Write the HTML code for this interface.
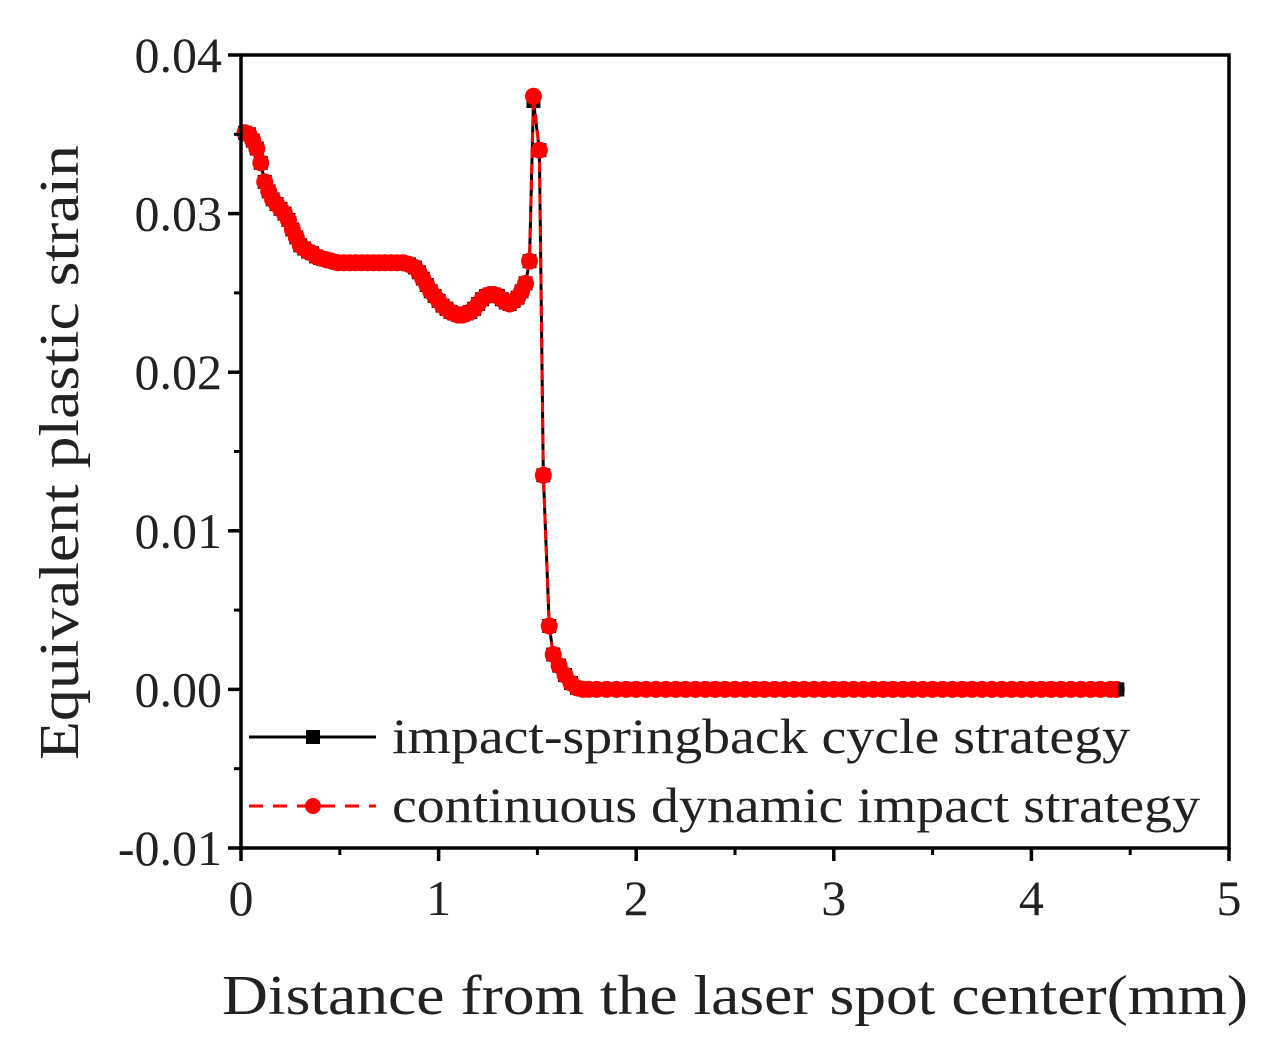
<!DOCTYPE html>
<html><head><meta charset="utf-8"><style>
html,body{margin:0;padding:0;background:#fff;}
svg{display:block;font-family:"Liberation Serif",serif;}
</style></head><body>
<svg id="chart" width="1274" height="1061" viewBox="0 0 1274 1061">
<g id="plot"></g>
</svg>
<script>
const xTicks=[0,1,2,3,4,5];
const xTickLabels=["0","1","2","3","4","5"];
const yTicks=[-0.01,0,0.01,0.02,0.03,0.04];
const yTickLabels=["-0.01","0.00","0.01","0.02","0.03","0.04"];
const xVals=[0.02,0.04,0.06,0.08,0.10,0.12,0.14,0.16,0.18,0.20,
0.22,0.24,0.26,0.28,0.30,0.32,0.34,0.36,0.38,0.40,
0.43,0.46,0.49,0.52,0.55,0.58,0.61,0.64,0.67,0.70,
0.73,0.76,0.79,0.82,0.85,0.88,0.90,0.92,0.94,0.96,
0.98,1.00,1.02,1.04,1.06,1.08,1.10,1.12,1.14,1.16,
1.18,1.20,1.22,1.24,1.26,1.28,1.30,1.32,1.34,1.36,
1.38,1.40,1.42,1.44,1.46,1.48,1.51,1.53,1.56,1.58,
1.61,1.64,1.67,1.70,1.73,1.76,1.80,1.85,1.90,1.95,
2.00,2.05,2.10,2.15,2.20,2.25,2.30,2.35,2.40,2.45,
2.50,2.55,2.60,2.65,2.70,2.75,2.80,2.85,2.90,2.95,
3.00,3.05,3.10,3.15,3.20,3.25,3.30,3.35,3.40,3.45,
3.50,3.55,3.60,3.65,3.70,3.75,3.80,3.85,3.90,3.95,
4.00,4.05,4.10,4.15,4.20,4.25,4.30,4.35,4.40,4.43];
const springbackVals=[0.0351,0.0350,0.0346,0.0341,0.0332,0.0320,0.0314,0.0309,0.0306,0.0303,
0.0300,0.0296,0.0290,0.0285,0.0280,0.0278,0.0276,0.0275,0.0273,0.0272,
0.0271,0.0270,0.0269,0.0269,0.0269,0.0269,0.0269,0.0269,0.0269,0.0269,
0.0269,0.0269,0.0269,0.0269,0.0268,0.0266,0.0263,0.0259,0.0255,0.0251,
0.0248,0.0245,0.0242,0.0240,0.0238,0.0237,0.0236,0.0236,0.0237,0.0238,
0.0240,0.0243,0.0246,0.0248,0.0249,0.0249,0.0248,0.0246,0.0244,0.0243,
0.0245,0.0247,0.0251,0.0256,0.0270,0.0371,0.0340,0.0135,0.0040,0.0022,
0.0015,0.0009,0.0004,0.0001,0,0,0,0,0,0,
0,0,0,0,0,0,0,0,0,0,
0,0,0,0,0,0,0,0,0,0,
0,0,0,0,0,0,0,0,0,0,
0,0,0,0,0,0,0,0,0,0,
0,0,0,0,0,0,0,0,0,0];
const continuousVals=[0.0351,0.0350,0.0346,0.0341,0.0332,0.0320,0.0314,0.0309,0.0306,0.0303,
0.0300,0.0296,0.0290,0.0285,0.0280,0.0278,0.0276,0.0275,0.0273,0.0272,
0.0271,0.0270,0.0269,0.0269,0.0269,0.0269,0.0269,0.0269,0.0269,0.0269,
0.0269,0.0269,0.0269,0.0269,0.0268,0.0266,0.0263,0.0259,0.0255,0.0251,
0.0248,0.0245,0.0242,0.0240,0.0238,0.0237,0.0236,0.0236,0.0237,0.0238,
0.0240,0.0243,0.0246,0.0248,0.0249,0.0249,0.0248,0.0246,0.0244,0.0243,
0.0245,0.0247,0.0251,0.0256,0.0270,0.0374,0.0340,0.0135,0.0040,0.0022,
0.0015,0.0009,0.0004,0.0001,0,0,0,0,0,0,
0,0,0,0,0,0,0,0,0,0,
0,0,0,0,0,0,0,0,0,0,
0,0,0,0,0,0,0,0,0,0,
0,0,0,0,0,0,0,0,0,0,
0,0,0,0,0,0,0,0,0,0];

const L=241,R=1229,T=55,B=848;
const xS=v=>L+(v-0)/(5-0)*(R-L);
const yS=v=>B-(v-(-0.01))/(0.05)*(B-T);
const NS="http://www.w3.org/2000/svg";
const g=document.getElementById('plot');
function mk(tag,attrs,parent){const e=document.createElementNS(NS,tag);for(const k in attrs)e.setAttribute(k,attrs[k]);(parent||g).appendChild(e);return e;}
const N=Math.min(xVals.length,springbackVals.length,continuousVals.length);

// series
const gs=mk('g',{});


let d1='';for(let i=0;i<N;i++)d1+=(i?'L':'M')+xS(xVals[i])+' '+yS(springbackVals[i])+' ';
const l1=mk('path',{d:d1,fill:'none',stroke:'#000','stroke-width':3},gs);


for(let i=0;i<N;i++){const m=mk('rect',{x:xS(xVals[i])-7,y:yS(springbackVals[i])-7,width:14,height:14,fill:'#111'},gs);

}
let d2='';for(let i=0;i<N;i++)d2+=(i?'L':'M')+xS(xVals[i])+' '+yS(continuousVals[i])+' ';
const l2=mk('path',{d:d2,fill:'none',stroke:'#f00','stroke-width':3,'stroke-dasharray':'10 6'},gs);


for(let i=0;i<N;i++){const m=mk('circle',{cx:xS(xVals[i]),cy:yS(continuousVals[i]),r:8.5,fill:'#f00'},gs);

}
const lastI=N-1;
const ls=mk('rect',{x:xS(xVals[lastI])+2,y:yS(springbackVals[lastI])-7,width:6,height:14,fill:'#111'},gs);



// frame
const fr=mk('rect',{x:L,y:T,width:R-L,height:B-T,fill:'none',stroke:'#000','stroke-width':3.5});



xTicks.forEach((v,i)=>{
 const t=mk('line',{x1:xS(v),x2:xS(v),y1:B,y2:B+13,stroke:'#000','stroke-width':3.5});
 
 
 if(i<xTicks.length-1){const m=mk('line',{x1:xS(v+0.5),x2:xS(v+0.5),y1:B,y2:B+7,stroke:'#000','stroke-width':3});
 
 }
 const tx=mk('text',{x:xS(v),y:B+67,'text-anchor':'middle','font-size':50,fill:'#222'});
 tx.textContent=xTickLabels[i];
 
 
});
yTicks.forEach((v,i)=>{
 const t=mk('line',{x1:L-13,x2:L,y1:yS(v),y2:yS(v),stroke:'#000','stroke-width':3.5});
 
 
 if(i<yTicks.length-1){const m=mk('line',{x1:L-7,x2:L,y1:yS(v+0.005),y2:yS(v+0.005),stroke:'#000','stroke-width':3});
 
 }
 const tx=mk('text',{x:L-19,y:yS(v)+17,'text-anchor':'end','font-size':50,fill:'#222'});
 tx.textContent=yTickLabels[i];
 
 
});
const xt=mk('text',{x:222,y:1014,'font-size':56,fill:'#222',textLength:1026,lengthAdjust:'spacingAndGlyphs'});
xt.textContent='Distance from the laser spot center(mm)';


const yt=mk('text',{x:0,y:0,'font-size':56,fill:'#222',textLength:615,lengthAdjust:'spacingAndGlyphs',transform:'translate(78,760) rotate(-90)'});
yt.textContent='Equivalent plastic strain';



// legend
const lg=mk('g',{});


const e1=mk('g',{},lg);


mk('line',{x1:249,x2:376,y1:737,y2:737,stroke:'#000','stroke-width':3},e1);
mk('rect',{x:306,y:730,width:14,height:14,fill:'#000'},e1);
const t1=mk('text',{x:392,y:753,'font-size':50,fill:'#222',textLength:738,lengthAdjust:'spacingAndGlyphs'},e1);
t1.textContent='impact-springback cycle strategy';
const e2=mk('g',{},lg);


mk('line',{x1:249,x2:376,y1:806,y2:806,stroke:'#f00','stroke-width':3,'stroke-dasharray':'14 10'},e2);
mk('circle',{cx:313,cy:806,r:8,fill:'#f00'},e2);
const t2=mk('text',{x:392,y:822,'font-size':50,fill:'#222',textLength:808,lengthAdjust:'spacingAndGlyphs'},e2);
t2.textContent='continuous dynamic impact strategy';
</script>
</body></html>
